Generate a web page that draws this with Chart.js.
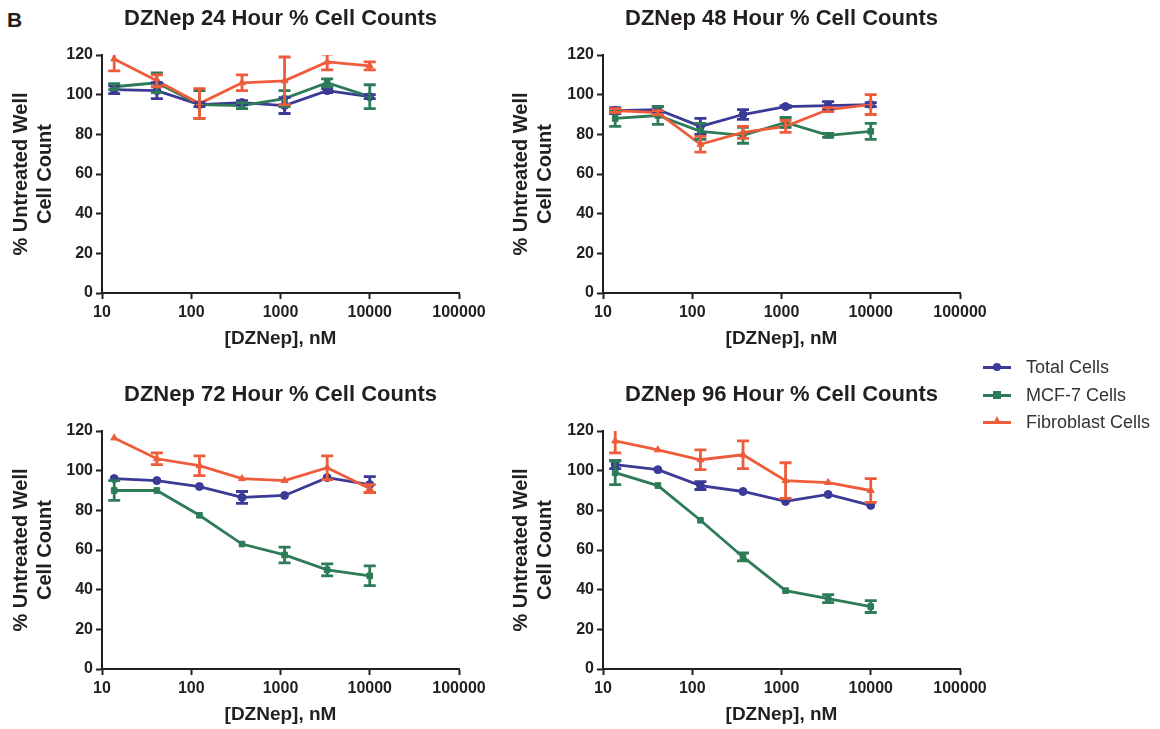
<!DOCTYPE html>
<html>
<head>
<meta charset="utf-8">
<script src="https://cdn.jsdelivr.net/npm/chart.js@4.4.1/dist/chart.umd.min.js"></script>
<style>
  body { margin: 0; background: #fff; width: 1160px; height: 729px; overflow: hidden; position: relative;
         font-family: "Liberation Sans", Arial, sans-serif; color: #231f20; }
  canvas { position: absolute; }
  #panelLabel { position: absolute; left: 7px; top: 9px; font-size: 21px; font-weight: bold; line-height: 21px; }
  #legend { position: absolute; left: 983px; top: 354px; }
  .row { height: 27.5px; display: flex; align-items: center; font-size: 18px; color: #333; }
  .swatch { position: relative; width: 28px; height: 3px; margin-right: 15px; }
  .mark { position: absolute; left: 10px; top: -3px; width: 8px; height: 8px; }
</style>
</head>
<body>
<div id="panelLabel">B</div>
<canvas id="c24" width="500" height="350" style="left:0;top:0"></canvas>
<canvas id="c48" width="500" height="350" style="left:500px;top:0"></canvas>
<canvas id="c72" width="500" height="350" style="left:0;top:376px"></canvas>
<canvas id="c96" width="500" height="350" style="left:500px;top:376px"></canvas>
<div id="legend"></div>
<script>
// DZNep doses (nM), 3-fold dilutions
var doses = [13.7, 41.2, 123.5, 370.4, 1111, 3333, 10000];
var xTicks = [10, 100, 1000, 10000, 100000];
var seriesNames = ['Total Cells', 'MCF-7 Cells', 'Fibroblast Cells'];

// 24 hour
var total24 = [102.5, 102, 95, 96, 94.5, 102, 99];
var total24Err = [2, 4, 1, 1, 4, 1, 1];
var mcf24 = [104, 106, 95, 94.5, 98, 106, 99];
var mcf24Err = [1.5, 5, 7, 1.5, 4, 2, 6];
var fib24 = [118, 107, 95.5, 106, 107, 116.5, 114.5];
var fib24Err = [6, 3, 7.5, 4, 12, 4, 2];

// 48 hour
var total48 = [92, 92.5, 84, 90, 94, 94.5, 95];
var total48Err = [1.5, 1.5, 4, 2.5, 0.5, 2, 1];
var mcf48 = [88, 89.5, 81.5, 79.5, 86, 79.5, 81.5];
var mcf48Err = [4, 4.5, 4, 4, 2.5, 1, 4];
var fib48 = [92, 91, 75, 81, 84, 92.5, 95];
var fib48Err = [1, 1, 4, 3, 3, 1, 5];

// 72 hour
var total72 = [96, 95, 92, 86.5, 87.5, 96.5, 93];
var total72Err = [0, 0, 0, 3, 0, 0, 4];
var mcf72 = [90, 90, 77.5, 63, 57.5, 50, 47];
var mcf72Err = [5, 0, 0, 0, 4, 3, 5];
var fib72 = [116.5, 106, 102.5, 96, 95, 101.5, 91];
var fib72Err = [0, 3, 5, 0, 0, 6, 2];

// 96 hour
var total96 = [103, 100.5, 92.5, 89.5, 84.5, 88, 82.5];
var total96Err = [2, 0, 2, 0, 0, 0, 0];
var mcf96 = [99, 92.5, 75, 56.5, 39.5, 35.5, 31.5];
var mcf96Err = [6, 0, 0, 2, 0, 2, 3];
var fib96 = [115, 110.5, 105.5, 108, 95, 94, 90];
var fib96Err = [6, 0, 5, 7, 9, 0, 6];

var colors = ['#3b3a96', '#2e7b57', '#ef5c3b'];
var shapes = ['circle', 'rect', 'triangle'];
var ink = '#231f20';
var fontFam = '"Liberation Sans", Arial, sans-serif';

// draws symmetric error bars using the y scale
var errorBars = {
  id: 'errorBars',
  afterDatasetsDraw: function(chart) {
    var ctx = chart.ctx, area = chart.chartArea, y = chart.scales.y;
    ctx.save();
    ctx.beginPath();
    ctx.rect(area.left - 10, area.top, area.right - area.left + 20, area.bottom - area.top);
    ctx.clip();
    chart.data.datasets.forEach(function(ds, di) {
      var meta = chart.getDatasetMeta(di);
      ds.errors.forEach(function(e, i) {
        if (!e) return;
        var px = meta.data[i].x;
        var top = y.getPixelForValue(ds.data[i].y + e);
        var bot = y.getPixelForValue(ds.data[i].y - e);
        ctx.strokeStyle = ds.borderColor;
        ctx.lineWidth = 2.8;
        ctx.beginPath();
        ctx.moveTo(px, top); ctx.lineTo(px, bot);
        ctx.moveTo(px - 6, top); ctx.lineTo(px + 6, top);
        ctx.moveTo(px - 6, bot); ctx.lineTo(px + 6, bot);
        ctx.stroke();
      });
    });
    ctx.restore();
  }
};

function series(vals, errs, k) {
  return {
    label: seriesNames[k],
    data: vals.map(function(v, i) { return {x: doses[i], y: v}; }),
    errors: errs,
    borderColor: colors[k],
    backgroundColor: colors[k],
    borderWidth: 2.8,
    pointStyle: shapes[k],
    pointRadius: 4,
    pointBorderWidth: 1,
    tension: 0,
    order: 2 - k
  };
}

function makeChart(id, title, sets, yWidth, rightPad) {
  return new Chart(document.getElementById(id), {
    type: 'line',
    data: { datasets: sets },
    plugins: [errorBars],
    options: {
      responsive: false,
      animation: false,
      layout: { padding: { left: 0, right: rightPad, top: 0, bottom: 0 } },
      plugins: {
        legend: { display: false },
        tooltip: { enabled: false },
        title: {
          display: true, text: title, color: ink, fullSize: false,
          font: { family: fontFam, size: 22, weight: 'bold' },
          padding: { top: 6, bottom: 22.6 }
        }
      },
      scales: {
        x: {
          type: 'logarithmic', min: 10, max: 100000,
          afterBuildTicks: function(s) { s.ticks = xTicks.map(function(v) { return {value: v}; }); },
          afterFit: function(s) { s.height = 57; },
          ticks: { color: ink, font: { family: fontFam, size: 16, weight: 'bold' }, padding: 4,
                   maxRotation: 0, autoSkip: false,
                   callback: function(v) { return String(v); } },
          grid: { drawOnChartArea: false, drawTicks: true, tickLength: 6, tickWidth: 2, tickColor: ink },
          border: { display: true, color: ink, width: 2 },
          title: { display: true, text: '[DZNep], nM', color: ink,
                   font: { family: fontFam, size: 19, weight: 'bold' }, padding: { top: 0, bottom: 0 } }
        },
        y: {
          min: 0, max: 120,
          afterFit: function(s) { s.width = yWidth; },
          ticks: { stepSize: 20, color: ink, font: { family: fontFam, size: 16, weight: 'bold' }, padding: 3 },
          grid: { drawOnChartArea: false, drawTicks: true, tickLength: 6, tickWidth: 2, tickColor: ink },
          border: { display: true, color: ink, width: 2 },
          title: { display: true, text: ['% Untreated Well', 'Cell Count'], color: ink,
                   font: { family: fontFam, size: 20, weight: 'bold' }, padding: { top: 9, bottom: 0 } }
        }
      }
    }
  });
}

makeChart('c24', 'DZNep 24 Hour % Cell Counts',
  [series(total24, total24Err, 0), series(mcf24, mcf24Err, 1), series(fib24, fib24Err, 2)], 102, 41);
makeChart('c48', 'DZNep 48 Hour % Cell Counts',
  [series(total48, total48Err, 0), series(mcf48, mcf48Err, 1), series(fib48, fib48Err, 2)], 103, 40);
makeChart('c72', 'DZNep 72 Hour % Cell Counts',
  [series(total72, total72Err, 0), series(mcf72, mcf72Err, 1), series(fib72, fib72Err, 2)], 102, 41);
makeChart('c96', 'DZNep 96 Hour % Cell Counts',
  [series(total96, total96Err, 0), series(mcf96, mcf96Err, 1), series(fib96, fib96Err, 2)], 103, 40);

// legend
var legend = document.getElementById('legend');
seriesNames.forEach(function(name, k) {
  var row = document.createElement('div');
  row.className = 'row';
  var sw = document.createElement('div');
  sw.className = 'swatch';
  sw.style.background = colors[k];
  var m = document.createElement('div');
  m.className = 'mark';
  if (k === 0) { m.style.background = colors[k]; m.style.borderRadius = '50%'; }
  else if (k === 1) { m.style.background = colors[k]; }
  else { m.style.width = '0'; m.style.height = '0'; m.style.top = '-5px';
         m.style.borderLeft = '4px solid transparent'; m.style.borderRight = '4px solid transparent';
         m.style.borderBottom = '8px solid ' + colors[k]; }
  sw.appendChild(m);
  var t = document.createElement('span');
  t.textContent = name;
  row.appendChild(sw);
  row.appendChild(t);
  legend.appendChild(row);
});
</script>
</body>
</html>
